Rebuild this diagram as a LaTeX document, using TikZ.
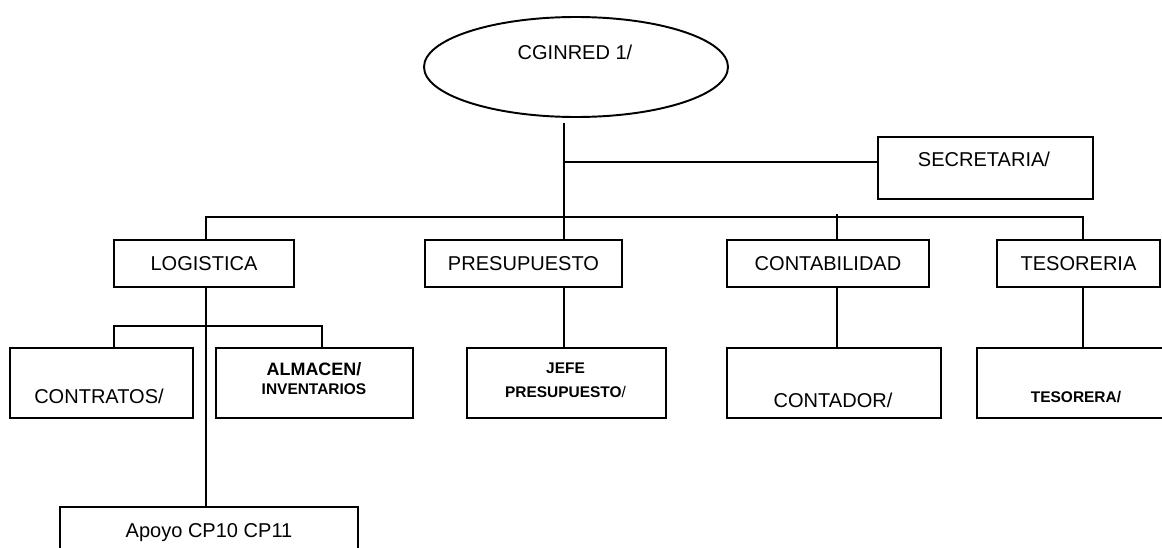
\documentclass[tikz,border=0pt]{standalone}
\usepackage{fontspec}
\setmainfont{Liberation Sans}
\usetikzlibrary{shapes.geometric}
\tikzset{
  unit/.style={draw,line width=1.1pt,inner sep=0pt,anchor=center,font=\fontsize{11.4}{13.7}\selectfont},
  txt/.style={font=\fontsize{11.4}{13.7}\selectfont,inner sep=0pt,anchor=base},
  smallbf/.style={font=\fontsize{8.8}{10.5}\selectfont\bfseries,inner sep=0pt,anchor=base},
}
\begin{document}
\begin{tikzpicture}[line width=1.1pt]
        \clip (0,0) rectangle (23.24,-10.94);
        %% head
        \node[unit,ellipse,minimum width=6.08cm,minimum height=2cm] (cginred) at (11.52,-1.34) {};
        \node[txt] (cginredT) at (11.5,-1.18) {CGINRED 1/};
        \node[unit,minimum width=4.3cm,minimum height=1.24cm] (secretaria) at (19.71,-3.36) {};
        \node[txt] (secretariaT) at (19.68,-3.32) {SECRETARIA/};
        %% units first row
        \node[unit,minimum width=3.6cm,minimum height=0.94cm] (logistica) at (4.08,-5.27) {LOGISTICA};
        \node[unit,minimum width=3.94cm,minimum height=0.94cm] (presupuesto) at (10.47,-5.27) {PRESUPUESTO};
        \node[unit,minimum width=4.04cm,minimum height=0.94cm] (contabilidad) at (16.56,-5.27) {CONTABILIDAD};
        \node[unit,minimum width=3.26cm,minimum height=0.94cm] (tesoreria) at (21.57,-5.27) {TESORERIA};
        %% units second row
        \node[unit,minimum width=3.66cm,minimum height=1.4cm] (contratos) at (2.03,-7.66) {};
        \node[txt] (contratosT) at (1.98,-8.06) {CONTRATOS/};
        \node[unit,minimum width=3.94cm,minimum height=1.4cm] (almacen) at (6.29,-7.66) {};
        \node[smallbf,font=\fontsize{10.2}{12}\selectfont\bfseries] (almacenT) at (6.28,-7.5) {ALMACEN/};
        \node[smallbf] (inventariosT) at (6.28,-7.88) {INVENTARIOS};
        \node[unit,minimum width=3.98cm,minimum height=1.4cm] (jefe) at (11.33,-7.66) {};
        \node[smallbf] (jefeT) at (11.31,-7.46) {JEFE};
        \node[smallbf] (jefeU) at (11.31,-7.94) {PRESUPUESTO\normalfont/};
        \node[unit,minimum width=4.28cm,minimum height=1.4cm] (contador) at (16.68,-7.66) {};
        \node[txt] (contadorT) at (16.66,-8.14) {CONTADOR/};
        \node[unit,minimum width=4.26cm,minimum height=1.4cm] (tesorera) at (21.67,-7.66) {};
        \node[smallbf] (tesoreraT) at (21.52,-8.04) {TESORERA/};
        %% support
        \node[unit,minimum width=5.96cm,minimum height=1.4cm] (apoyo) at (4.18,-10.84) {};
        \node[txt] (apoyoT) at (4.18,-10.74) {Apoyo CP10 CP11};
        %% joints
        \coordinate (trunk) at (11.28,-2.46);
        \coordinate (secjoin) at (11.28,-3.24);
        \coordinate (barL) at (4.12,-4.34);
        \coordinate (barR) at (21.66,-4.34);
        \coordinate (contjoin) at (16.74,-4.28);
        \coordinate (subL) at (2.28,-6.52);
        \coordinate (subR) at (6.44,-6.52);
        %% top lines
        \draw (trunk) -- (presupuesto.north -| trunk);
        \draw (secjoin) -- (secretaria.west |- secjoin);
        \draw (logistica.north -| barL) -- (barL) -- (barR) -- (tesoreria.north -| barR);
        \draw (contjoin) -- (contabilidad.north -| contjoin);
        %% lower lines
        \draw (presupuesto.south -| trunk) -- (jefe.north -| trunk);
        \draw (contabilidad.south -| contjoin) -- (contador.north -| contjoin);
        \draw (tesoreria.south -| barR) -- (tesorera.north -| barR);
        \draw (logistica.south -| barL) -- (apoyo.north -| barL);
        \draw (contratos.north -| subL) -- (subL) -- (subR) -- (almacen.north -| subR);
    \end{tikzpicture}
\end{document}
